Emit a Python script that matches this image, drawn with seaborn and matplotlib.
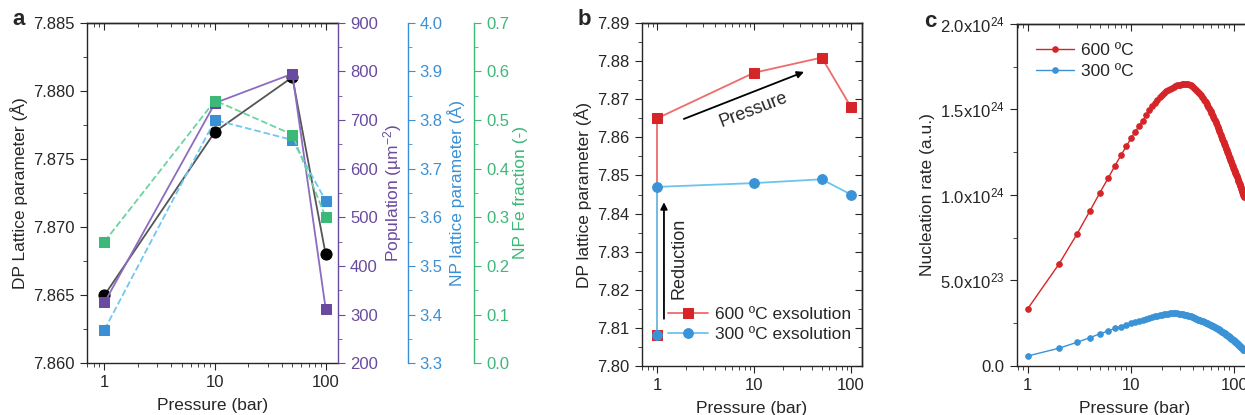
import matplotlib
matplotlib.use('Agg')
import matplotlib.pyplot as plt
import seaborn as sns
from matplotlib.ticker import LogLocator, MultipleLocator, NullFormatter, FixedLocator, FixedFormatter

# ---- data: panel a ----
pressure_a = [1, 10, 50, 100]
dp_lattice_a = [7.865, 7.877, 7.881, 7.868]
population_a = [325, 735, 795, 312]
np_lattice_a = [3.369, 3.800, 3.759, 3.634]
np_fe_a = [0.25, 0.54, 0.47, 0.30]

# ---- data: panel b ----
pressure_b = [1, 1, 10, 50, 100]
dp_600 = [7.808, 7.865, 7.877, 7.881, 7.868]
dp_300 = [7.808, 7.847, 7.848, 7.849, 7.845]

# ---- data: panel c (nucleation rate, units of 1e24) ----
pressure_c = list(range(1, 126))
rate_600 = [
    0.334, 0.594, 0.771, 0.906, 1.013, 1.097, 1.171, 1.232, 1.284, 1.331,
    1.370, 1.403, 1.434, 1.465, 1.494, 1.518, 1.540, 1.557, 1.572, 1.585,
    1.596, 1.605, 1.613, 1.620, 1.626, 1.631, 1.636, 1.640, 1.643, 1.645,
    1.647, 1.648, 1.649, 1.649, 1.648, 1.646, 1.644, 1.640, 1.636, 1.631,
    1.626, 1.621, 1.615, 1.609, 1.603, 1.597, 1.590, 1.582, 1.574, 1.566,
    1.558, 1.549, 1.541, 1.533, 1.524, 1.516, 1.507, 1.499, 1.490, 1.481,
    1.472, 1.464, 1.455, 1.446, 1.437, 1.427, 1.418, 1.409, 1.399, 1.390,
    1.381, 1.371, 1.362, 1.353, 1.343, 1.334, 1.324, 1.315, 1.307, 1.299,
    1.291, 1.284, 1.276, 1.268, 1.260, 1.252, 1.245, 1.237, 1.229, 1.221,
    1.214, 1.206, 1.198, 1.191, 1.183, 1.175, 1.168, 1.160, 1.154, 1.147,
    1.141, 1.134, 1.128, 1.121, 1.115, 1.108, 1.102, 1.095, 1.089, 1.082,
    1.076, 1.070, 1.063, 1.057, 1.050, 1.044, 1.037, 1.031, 1.024, 1.018,
    1.011, 1.005, 0.998, 0.992, 0.985,
]
rate_300 = [
    0.057, 0.102, 0.137, 0.164, 0.187, 0.203, 0.219, 0.228, 0.240, 0.250,
    0.257, 0.264, 0.270, 0.276, 0.281, 0.285, 0.289, 0.293, 0.296, 0.299,
    0.301, 0.303, 0.305, 0.306, 0.307, 0.307, 0.307, 0.306, 0.305, 0.304,
    0.303, 0.301, 0.299, 0.297, 0.295, 0.293, 0.291, 0.288, 0.286, 0.283,
    0.281, 0.278, 0.275, 0.273, 0.270, 0.268, 0.266, 0.263, 0.261, 0.259,
    0.257, 0.255, 0.252, 0.250, 0.248, 0.246, 0.243, 0.241, 0.239, 0.237,
    0.234, 0.232, 0.230, 0.228, 0.225, 0.223, 0.221, 0.219, 0.217, 0.214,
    0.212, 0.210, 0.207, 0.205, 0.203, 0.200, 0.198, 0.196, 0.194, 0.191,
    0.189, 0.187, 0.184, 0.182, 0.180, 0.178, 0.175, 0.173, 0.171, 0.168,
    0.166, 0.164, 0.161, 0.159, 0.157, 0.155, 0.152, 0.150, 0.148, 0.146,
    0.143, 0.141, 0.139, 0.137, 0.134, 0.132, 0.130, 0.128, 0.125, 0.123,
    0.121, 0.119, 0.116, 0.114, 0.112, 0.110, 0.107, 0.105, 0.103, 0.101,
    0.098, 0.096, 0.094, 0.092, 0.090,
]
rate_ticks = [0.0, 0.5, 1.0, 1.5, 2.0]
rate_labels = ['0.0', '5.0x10$^{23}$', '1.0x10$^{24}$', '1.5x10$^{24}$', '2.0x10$^{24}$']

sns.set_style('ticks')
plt.rcParams['font.family'] = ['Liberation Sans', 'DejaVu Sans']
plt.rcParams['mathtext.default'] = 'regular'
plt.rcParams['font.size'] = 12
plt.rcParams['axes.linewidth'] = 1.0
plt.rcParams['xtick.major.size'] = 5
plt.rcParams['ytick.major.size'] = 5
plt.rcParams['xtick.minor.size'] = 3
plt.rcParams['ytick.minor.size'] = 3

PURPLE = '#6a4a9e'
PURPLE_L = '#8c6cc0'
BLUE = '#3b8fd4'
BLUE_L = '#72c7f0'
GREEN = '#3cb878'
GREEN_L = '#6cd4a0'
RED = '#d62528'
RED_L = '#ef6b6b'
SKY = '#3a93d6'

fig = plt.figure(figsize=(12.45, 4.15), dpi=100)


def log_x(ax, lo, hi):
    ax.set_xscale('log')
    ax.set_xlim(lo, hi)
    ax.xaxis.set_major_locator(FixedLocator([1, 10, 100]))
    ax.xaxis.set_major_formatter(FixedFormatter(['1', '10', '100']))
    ax.xaxis.set_minor_locator(LogLocator(base=10, subs=range(2, 10)))
    ax.xaxis.set_minor_formatter(NullFormatter())
    top = ax.secondary_xaxis('top')
    top.set_xticks([1, 10, 100])
    top.xaxis.set_minor_locator(LogLocator(base=10, subs=range(2, 10)))
    top.tick_params(which='both', direction='in', labeltop=False)
    top.xaxis.set_minor_formatter(NullFormatter())
    top.set_xticklabels([])
    ax.set_xlabel('Pressure (bar)', fontsize=12.5, labelpad=6)


# ================= panel a =================
ax = fig.add_axes([0.0696, 0.1246, 0.2021, 0.8207])
sns.lineplot(x=pressure_a, y=dp_lattice_a, ax=ax, color='#555555', lw=1.3,
             marker='o', markersize=8, markerfacecolor='black', markeredgecolor='black',
             estimator=None, sort=False)
log_x(ax, 0.69, 130)
ax.set_ylim(7.860, 7.885)
ax.yaxis.set_major_locator(MultipleLocator(0.005))
ax.yaxis.set_minor_locator(MultipleLocator(0.0025))
ax.yaxis.set_major_formatter(matplotlib.ticker.FormatStrFormatter('%.3f'))
ax.set_ylabel('DP Lattice parameter (Å)', fontsize=12.5)
ax.spines['right'].set_visible(False)

ax2 = ax.twinx()
sns.lineplot(x=pressure_a, y=population_a, ax=ax2, color=PURPLE_L, lw=1.3,
             marker='s', markersize=6.5, markerfacecolor=PURPLE, markeredgecolor=PURPLE,
             estimator=None, sort=False)
ax2.set_ylim(200, 900)
ax2.yaxis.set_major_locator(MultipleLocator(100))
ax2.yaxis.set_minor_locator(MultipleLocator(50))
ax2.set_ylabel('Population (µm$^{-2}$)', color=PURPLE, fontsize=12.5, labelpad=2)

ax3 = ax.twinx()
sns.lineplot(x=pressure_a, y=np_lattice_a, ax=ax3, color=BLUE_L, lw=1.3, linestyle='--',
             marker='s', markersize=6.5, markerfacecolor=BLUE, markeredgecolor=BLUE,
             estimator=None, sort=False)
ax3.set_ylim(3.3, 4.0)
ax3.yaxis.set_major_locator(MultipleLocator(0.1))
ax3.yaxis.set_minor_locator(MultipleLocator(0.05))
ax3.set_ylabel('NP lattice parameter (Å)', color=BLUE, fontsize=12.5, labelpad=3)
ax3.spines['right'].set_position(('outward', 50))

ax4 = ax.twinx()
sns.lineplot(x=pressure_a, y=np_fe_a, ax=ax4, color=GREEN_L, lw=1.3, linestyle='--',
             marker='s', markersize=6.5, markerfacecolor=GREEN, markeredgecolor=GREEN,
             estimator=None, sort=False)
ax4.set_ylim(0.0, 0.7)
ax4.yaxis.set_major_locator(MultipleLocator(0.1))
ax4.yaxis.set_minor_locator(MultipleLocator(0.05))
ax4.set_ylabel('NP Fe fraction (-)', color=GREEN, fontsize=12.5, labelpad=3)
ax4.spines['right'].set_position(('outward', 98))

for a, c in [(ax2, PURPLE), (ax3, BLUE), (ax4, GREEN)]:
    for s in ['left', 'top', 'bottom']:
        a.spines[s].set_visible(False)
    a.spines['right'].set_color(c)
    a.tick_params(axis='y', which='both', colors=c, labelcolor=c)
    a.yaxis.set_major_formatter(matplotlib.ticker.FormatStrFormatter('%g' if a is ax2 else '%.1f'))

fig.text(0.0153, 0.952, 'a', fontsize=16, fontweight='bold', ha='center', va='center')

# ================= panel b =================
bx = fig.add_axes([0.5154, 0.1188, 0.1767, 0.825])
sns.lineplot(x=pressure_b, y=dp_600, ax=bx, color=RED_L, lw=1.3,
             marker='s', markersize=6.5, markerfacecolor=RED, markeredgecolor=RED,
             estimator=None, sort=False, label='600 ºC exsolution')
sns.lineplot(x=pressure_b, y=dp_300, ax=bx, color='#6cc4ee', lw=1.3,
             marker='o', markersize=7, markerfacecolor=SKY, markeredgecolor=SKY,
             estimator=None, sort=False, label='300 ºC exsolution')
log_x(bx, 0.695, 129)
bx.set_ylim(7.80, 7.89)
bx.yaxis.set_major_locator(MultipleLocator(0.01))
bx.yaxis.set_minor_locator(MultipleLocator(0.005))
bx.yaxis.set_major_formatter(matplotlib.ticker.FormatStrFormatter('%.2f'))
bx.set_ylabel('DP lattice parameter (Å)', fontsize=12.5)
rb = bx.secondary_yaxis('right')
rb.yaxis.set_major_locator(MultipleLocator(0.01))
rb.yaxis.set_minor_locator(MultipleLocator(0.005))
rb.tick_params(which='both', direction='in', labelright=False)
bx.legend(loc='lower right', bbox_to_anchor=(0.985, 0.05), frameon=False, fontsize=12.5,
          handlelength=2.3, borderaxespad=0.0, labelspacing=0.25, handletextpad=0.4)

bx.annotate('', xy=(34.9, 7.8775), xytext=(1.78, 7.8646),
            arrowprops=dict(arrowstyle='-|>', color='black', lw=1.3, mutation_scale=10))
bx.text(9.8, 7.8672, 'Pressure', rotation=21, ha='center', va='center', fontsize=13)
bx.annotate('', xy=(1.18, 7.8437), xytext=(1.18, 7.8116),
            arrowprops=dict(arrowstyle='-|>', color='black', lw=1.3, mutation_scale=10))
bx.text(1.70, 7.8283, 'Reduction', rotation=90, ha='center', va='center', fontsize=13)

fig.text(0.469, 0.952, 'b', fontsize=16, fontweight='bold', ha='center', va='center')

# ================= panel c =================
cx = fig.add_axes([0.8166, 0.1188, 0.1893, 0.8234])
sns.lineplot(x=pressure_c, y=rate_600, ax=cx, color=RED, lw=1.0,
             marker='o', markersize=4, markerfacecolor=RED, markeredgecolor=RED,
             estimator=None, sort=False, label='600 ºC')
sns.lineplot(x=pressure_c, y=rate_300, ax=cx, color=SKY, lw=1.0,
             marker='o', markersize=4, markerfacecolor=SKY, markeredgecolor=SKY,
             estimator=None, sort=False, label='300 ºC')
log_x(cx, 0.78, 150)
cx.set_ylim(0, 2.0)
cx.yaxis.set_major_locator(FixedLocator(rate_ticks))
cx.yaxis.set_major_formatter(FixedFormatter(rate_labels))
cx.yaxis.set_minor_locator(MultipleLocator(0.25))
cx.set_ylabel('Nucleation rate (a.u.)', fontsize=12.5)
cx.legend(loc='upper left', frameon=False, fontsize=12.5, handlelength=2.2,
          borderaxespad=0.7, labelspacing=0.3, handletextpad=0.4)
cx.spines['right'].set_visible(False)

fig.text(0.747, 0.947, 'c', fontsize=16, fontweight='bold', ha='center', va='center')

for a in [ax, bx, cx]:
    a.tick_params(which='both', direction='out')

fig.savefig('out.png', dpi=100)
